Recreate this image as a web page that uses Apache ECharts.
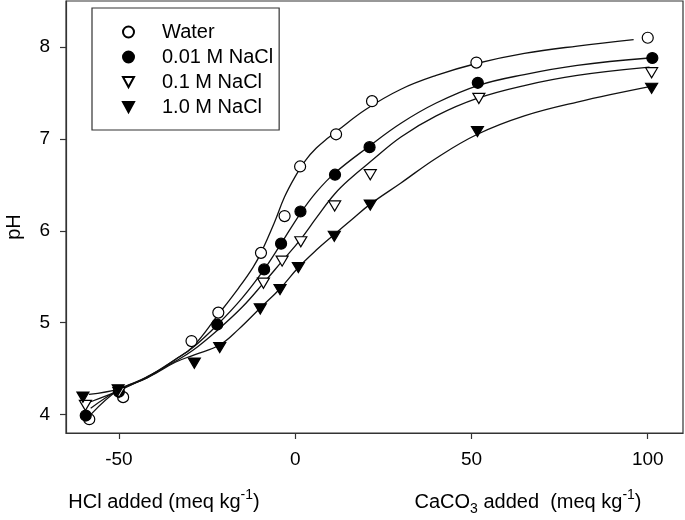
<!DOCTYPE html>
<html><head><meta charset="utf-8">
<script src="https://cdn.jsdelivr.net/npm/echarts@6/dist/echarts.min.js"></script>
<style>html,body{margin:0;padding:0;background:#fff}#c{width:685px;height:520px}</style>
</head><body><div id="c"></div>
<script>
// tick labels
const xTicks = [-50, 0, 50, 100];
const yTicks = [4, 5, 6, 7, 8];
const seriesNames = ['Water', '0.01 M NaCl', '0.1 M NaCl', '1.0 M NaCl'];

// measured points
const waterX = [-58.4, -48.8, -29.4, -21.8, -9.7, -3.0, 1.4, 11.6, 21.8, 51.4, 100.0];
const waterY = [3.95, 4.19, 4.80, 5.11, 5.76, 6.16, 6.70, 7.05, 7.41, 7.83, 8.10];
const nacl001X = [-59.4, -50.0, -22.1, -8.8, -4.0, 1.5, 11.3, 21.1, 51.8, 101.3];
const nacl001Y = [3.99, 4.25, 4.98, 5.58, 5.86, 6.21, 6.61, 6.91, 7.61, 7.88];
const nacl01X = [-59.5, -50.0, -9.0, -3.7, 1.6, 11.2, 21.3, 52.1, 101.1];
const nacl01Y = [4.10, 4.24, 5.43, 5.67, 5.88, 6.27, 6.61, 7.44, 7.72];
const nacl1X = [-60.2, -50.2, -28.6, -21.4, -9.9, -4.3, 0.9, 11.1, 21.3, 51.7, 101.1];
const nacl1Y = [4.19, 4.27, 4.56, 4.73, 5.15, 5.36, 5.60, 5.94, 6.28, 7.08, 7.55];

// fitted curves
const waterFitX = [-58, -50, -42, -34, -29, -22, -16, -12, -9.7, -6, -3, 0, 3, 6, 9, 12, 20, 30, 40, 51.4, 65, 80, 96];
const waterFitY = [4.00, 4.27, 4.40, 4.60, 4.74, 5.08, 5.38, 5.60, 5.76, 6.08, 6.37, 6.59, 6.77, 6.90, 7.00, 7.09, 7.32, 7.54, 7.69, 7.82, 7.93, 8.01, 8.08];
const nacl001FitX = [-58, -50, -42, -34, -29, -22, -15, -8.8, -4, 1.5, 6, 11.3, 21, 30, 40, 51.8, 65, 80, 100.5];
const nacl001FitY = [4.07, 4.27, 4.41, 4.60, 4.73, 4.98, 5.27, 5.58, 5.86, 6.19, 6.42, 6.63, 6.92, 7.17, 7.39, 7.58, 7.70, 7.80, 7.88];
const nacl01FitX = [-58, -50, -42, -34, -29, -22, -15, -9, -3.7, 1.6, 6, 11.2, 16, 21.3, 30, 40, 51.6, 65, 80, 100.5];
const nacl01FitY = [4.14, 4.26, 4.41, 4.58, 4.70, 4.92, 5.17, 5.43, 5.67, 5.91, 6.14, 6.40, 6.58, 6.75, 7.02, 7.25, 7.44, 7.58, 7.69, 7.78];
const nacl1FitX = [-58.5, -50, -41, -34, -28.6, -21.3, -16, -9.9, -4.3, 0.9, 6, 11.1, 16, 21.3, 30, 40, 51.7, 65, 80, 100.9];
const nacl1FitY = [4.22, 4.28, 4.42, 4.57, 4.65, 4.76, 4.93, 5.16, 5.37, 5.60, 5.79, 5.96, 6.12, 6.29, 6.52, 6.79, 7.05, 7.25, 7.40, 7.57];

const zip = (xs, ys) => xs.map((x, i) => [x, ys[i]]);

const font = 'Liberation Sans, Arial, Helvetica, sans-serif';
const black = '#000';
const downTri = 'path://M0,0 L12,0 L6,11 Z';

function scatter(name, xs, ys, symbol, filled) {
  return {
    type: 'scatter', name, data: zip(xs, ys), z: 5,
    symbol: symbol === 'triangle' ? downTri : 'circle',
    symbolSize: symbol === 'triangle' ? [12, 11] : 11,
    symbolKeepAspect: true,
    itemStyle: { color: filled ? black : '#fff', borderColor: black, borderWidth: 1.2, opacity: 1 }
  };
}
function fit(name, xs, ys) {
  return {
    type: 'line', name, data: zip(xs, ys), showSymbol: false, smooth: 0.4,
    lineStyle: { color: '#111', width: 1.3 }, z: 3, silent: true
  };
}

const chart = echarts.init(document.getElementById('c'), null, { renderer: 'canvas' });
chart.setOption({
  animation: false,
  backgroundColor: '#fff',
  textStyle: { fontFamily: font },
  grid: { left: 66, right: 2, top: 1, bottom: 87, show: true, borderColor: '#333', borderWidth: 1.2, backgroundColor: 'transparent' },
  xAxis: {
    type: 'value', min: -65, max: 110,
    axisLine: { show: true, onZero: false, lineStyle: { color: '#333', width: 1.2 } },
    axisTick: { show: true, customValues: xTicks, length: 6, lineStyle: { color: '#333', width: 1.2 } },
    axisLabel: { customValues: xTicks, fontSize: 19, color: black, margin: 17, fontFamily: font },
    splitLine: { show: false }
  },
  yAxis: {
    type: 'value', min: 3.8, max: 8.5,
    axisLine: { show: true, onZero: false, lineStyle: { color: '#333', width: 1.2 } },
    axisTick: { show: true, customValues: yTicks, length: 6, lineStyle: { color: '#333', width: 1.2 } },
    axisLabel: { customValues: yTicks, fontSize: 19, color: black, margin: 16, fontFamily: font },
    splitLine: { show: false }
  },
  legend: {
    data: seriesNames, orient: 'vertical', left: 92, top: 8,
    itemWidth: 11, itemHeight: 11, itemGap: 5,
    padding: [14, 6, 13, 30],
    borderColor: '#333', borderWidth: 1.2, borderRadius: 0,
    textStyle: { fontSize: 20, color: black, fontFamily: font, lineHeight: 20, padding: [0, 0, 0, 23] },
    selectedMode: false
  },
  graphic: [
    { type: 'text', x: 14, y: 227, rotation: Math.PI / 2,
      style: { text: 'pH', font: '20px ' + font, fill: black, align: 'center', verticalAlign: 'middle' } },
    { type: 'text', x: 164, y: 502,
      style: { text: 'HCl added (meq kg{sup|-1})', fontSize: 20, fontFamily: font, fill: black, align: 'center', verticalAlign: 'middle', lineHeight: 28,
        rich: { sup: { fontSize: 14, fontFamily: font, verticalAlign: 'top', lineHeight: 14 } } } },
    { type: 'text', x: 528, y: 502,
      style: { text: 'CaCO{sub|3} added  (meq kg{sup|-1})', fontSize: 20, fontFamily: font, fill: black, align: 'center', verticalAlign: 'middle', lineHeight: 28,
        rich: { sup: { fontSize: 14, fontFamily: font, verticalAlign: 'top', lineHeight: 14 },
                sub: { fontSize: 14, fontFamily: font, verticalAlign: 'bottom', lineHeight: 14 } } } }
  ],
  series: [
    fit('Water fit', waterFitX, waterFitY),
    fit('0.01 M fit', nacl001FitX, nacl001FitY),
    fit('0.1 M fit', nacl01FitX, nacl01FitY),
    fit('1.0 M fit', nacl1FitX, nacl1FitY),
    scatter(seriesNames[0], waterX, waterY, 'circle', false),
    scatter(seriesNames[1], nacl001X, nacl001Y, 'circle', true),
    scatter(seriesNames[2], nacl01X, nacl01Y, 'triangle', false),
    scatter(seriesNames[3], nacl1X, nacl1Y, 'triangle', true)
  ]
});
</script>
</body></html>
